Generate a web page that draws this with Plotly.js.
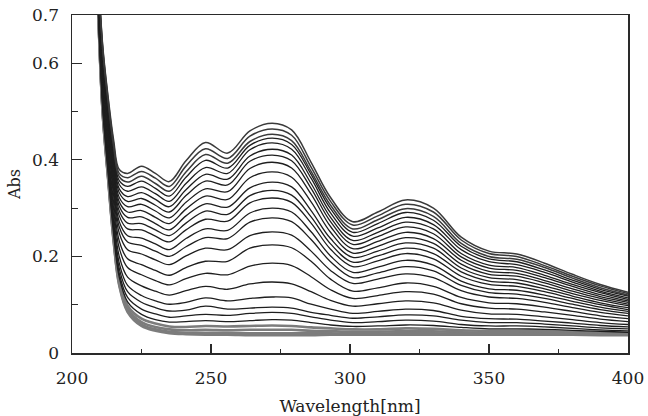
<!DOCTYPE html>
<html>
<head>
<meta charset="utf-8">
<script src="https://cdn.plot.ly/plotly-3.0.1.min.js"></script>
<style>html,body{margin:0;padding:0;background:#fff;}#chart{width:648px;height:416px;}</style>
</head>
<body>
<div id="chart"></div>
<script>
// Wavelength grid (nm)
const wavelength = [209, 211, 213, 215, 217, 220, 225, 230, 235, 241, 248, 256, 264, 272, 279, 286, 293, 301, 310, 320, 330, 340, 350, 360, 370, 380, 390, 400];

// Absorbance spectra, top curve first
const s01 = [0.840, 0.640, 0.530, 0.440, 0.380, 0.372, 0.387, 0.372, 0.355, 0.398, 0.436, 0.414, 0.460, 0.476, 0.462, 0.395, 0.322, 0.272, 0.292, 0.317, 0.300, 0.240, 0.211, 0.205, 0.186, 0.163, 0.142, 0.126];
const s02 = [0.838, 0.636, 0.525, 0.433, 0.372, 0.363, 0.376, 0.362, 0.345, 0.387, 0.423, 0.403, 0.449, 0.464, 0.451, 0.385, 0.314, 0.265, 0.284, 0.308, 0.292, 0.234, 0.206, 0.200, 0.181, 0.159, 0.139, 0.123];
const s03 = [0.836, 0.631, 0.519, 0.427, 0.365, 0.354, 0.366, 0.351, 0.335, 0.375, 0.411, 0.393, 0.438, 0.453, 0.440, 0.376, 0.306, 0.257, 0.276, 0.299, 0.283, 0.227, 0.200, 0.194, 0.177, 0.155, 0.135, 0.120];
const s04 = [0.834, 0.627, 0.514, 0.420, 0.357, 0.345, 0.356, 0.341, 0.325, 0.364, 0.399, 0.383, 0.430, 0.445, 0.432, 0.370, 0.299, 0.250, 0.268, 0.291, 0.275, 0.221, 0.195, 0.189, 0.172, 0.151, 0.132, 0.118];
const s05 = [0.832, 0.622, 0.508, 0.413, 0.349, 0.335, 0.344, 0.330, 0.314, 0.351, 0.384, 0.372, 0.421, 0.435, 0.422, 0.362, 0.290, 0.242, 0.259, 0.281, 0.266, 0.214, 0.189, 0.183, 0.167, 0.147, 0.128, 0.114];
const s06 = [0.830, 0.617, 0.502, 0.405, 0.340, 0.324, 0.332, 0.318, 0.303, 0.338, 0.370, 0.360, 0.408, 0.422, 0.410, 0.351, 0.281, 0.233, 0.250, 0.271, 0.257, 0.206, 0.182, 0.177, 0.161, 0.142, 0.125, 0.111];
const s07 = [0.828, 0.612, 0.496, 0.398, 0.332, 0.314, 0.320, 0.306, 0.292, 0.326, 0.356, 0.348, 0.397, 0.410, 0.398, 0.341, 0.272, 0.225, 0.241, 0.261, 0.247, 0.199, 0.176, 0.171, 0.156, 0.138, 0.121, 0.108];
const s08 = [0.826, 0.606, 0.489, 0.390, 0.322, 0.303, 0.308, 0.294, 0.280, 0.312, 0.340, 0.334, 0.382, 0.395, 0.383, 0.329, 0.262, 0.216, 0.231, 0.250, 0.237, 0.192, 0.169, 0.165, 0.150, 0.133, 0.117, 0.105];
const s09 = [0.823, 0.601, 0.483, 0.382, 0.313, 0.292, 0.295, 0.281, 0.268, 0.298, 0.325, 0.318, 0.363, 0.375, 0.364, 0.313, 0.250, 0.207, 0.221, 0.239, 0.227, 0.184, 0.163, 0.159, 0.145, 0.128, 0.113, 0.101];
const s10 = [0.821, 0.595, 0.476, 0.373, 0.304, 0.281, 0.282, 0.268, 0.255, 0.284, 0.309, 0.302, 0.342, 0.354, 0.344, 0.295, 0.237, 0.198, 0.211, 0.228, 0.217, 0.176, 0.156, 0.152, 0.139, 0.123, 0.109, 0.098];
const s11 = [0.819, 0.590, 0.469, 0.365, 0.294, 0.269, 0.268, 0.255, 0.243, 0.269, 0.294, 0.287, 0.326, 0.337, 0.327, 0.282, 0.226, 0.188, 0.201, 0.217, 0.206, 0.168, 0.149, 0.145, 0.133, 0.118, 0.104, 0.094];
const s12 = [0.816, 0.584, 0.462, 0.356, 0.284, 0.257, 0.255, 0.242, 0.230, 0.255, 0.277, 0.273, 0.311, 0.321, 0.312, 0.269, 0.215, 0.179, 0.191, 0.206, 0.195, 0.159, 0.142, 0.138, 0.127, 0.113, 0.100, 0.090];
const s13 = [0.813, 0.577, 0.454, 0.346, 0.272, 0.243, 0.238, 0.226, 0.214, 0.237, 0.257, 0.254, 0.290, 0.300, 0.292, 0.251, 0.201, 0.167, 0.178, 0.192, 0.182, 0.149, 0.133, 0.130, 0.120, 0.107, 0.095, 0.086];
const s14 = [0.810, 0.571, 0.446, 0.336, 0.261, 0.230, 0.223, 0.211, 0.200, 0.220, 0.239, 0.237, 0.271, 0.280, 0.272, 0.235, 0.189, 0.156, 0.166, 0.179, 0.170, 0.140, 0.125, 0.122, 0.113, 0.101, 0.090, 0.082];
const s15 = [0.807, 0.563, 0.437, 0.325, 0.248, 0.214, 0.205, 0.193, 0.183, 0.201, 0.217, 0.214, 0.243, 0.251, 0.244, 0.211, 0.171, 0.144, 0.153, 0.164, 0.156, 0.129, 0.116, 0.113, 0.105, 0.094, 0.084, 0.077];
const s16 = [0.803, 0.554, 0.425, 0.310, 0.232, 0.195, 0.183, 0.171, 0.161, 0.177, 0.190, 0.190, 0.217, 0.224, 0.218, 0.190, 0.153, 0.128, 0.135, 0.145, 0.138, 0.115, 0.104, 0.102, 0.095, 0.086, 0.077, 0.071];
const s17 = [0.799, 0.545, 0.414, 0.297, 0.217, 0.177, 0.162, 0.150, 0.141, 0.154, 0.165, 0.162, 0.180, 0.186, 0.181, 0.158, 0.131, 0.113, 0.119, 0.127, 0.122, 0.102, 0.093, 0.091, 0.085, 0.078, 0.070, 0.065];
const s18 = [0.795, 0.535, 0.403, 0.283, 0.200, 0.157, 0.139, 0.128, 0.120, 0.129, 0.138, 0.132, 0.143, 0.147, 0.143, 0.127, 0.109, 0.097, 0.102, 0.108, 0.104, 0.089, 0.081, 0.080, 0.075, 0.069, 0.063, 0.059];
const s19 = [0.791, 0.527, 0.392, 0.270, 0.186, 0.140, 0.119, 0.108, 0.101, 0.105, 0.114, 0.108, 0.113, 0.116, 0.114, 0.101, 0.091, 0.082, 0.086, 0.091, 0.088, 0.076, 0.071, 0.070, 0.066, 0.062, 0.057, 0.054];
const s20 = [0.789, 0.521, 0.385, 0.261, 0.175, 0.127, 0.105, 0.094, 0.087, 0.089, 0.097, 0.091, 0.093, 0.095, 0.093, 0.084, 0.078, 0.072, 0.075, 0.079, 0.077, 0.068, 0.063, 0.063, 0.060, 0.056, 0.052, 0.050];
const s21 = [0.786, 0.515, 0.378, 0.252, 0.165, 0.115, 0.091, 0.081, 0.074, 0.077, 0.080, 0.078, 0.082, 0.084, 0.082, 0.075, 0.068, 0.063, 0.065, 0.068, 0.066, 0.059, 0.056, 0.056, 0.054, 0.051, 0.048, 0.046];
const s22 = [0.784, 0.510, 0.372, 0.245, 0.157, 0.106, 0.080, 0.069, 0.064, 0.065, 0.067, 0.065, 0.067, 0.069, 0.068, 0.063, 0.058, 0.055, 0.056, 0.058, 0.057, 0.053, 0.050, 0.050, 0.049, 0.047, 0.045, 0.043];
// dense grey cluster near the baseline
const s23 = [0.783, 0.506, 0.368, 0.239, 0.151, 0.098, 0.071, 0.061, 0.055, 0.054, 0.056, 0.055, 0.056, 0.057, 0.056, 0.053, 0.051, 0.049, 0.049, 0.051, 0.050, 0.047, 0.046, 0.046, 0.045, 0.044, 0.042, 0.041];
const s24 = [0.782, 0.503, 0.364, 0.235, 0.146, 0.092, 0.064, 0.054, 0.049, 0.047, 0.048, 0.047, 0.048, 0.048, 0.048, 0.046, 0.045, 0.044, 0.044, 0.045, 0.045, 0.043, 0.042, 0.042, 0.042, 0.041, 0.040, 0.039];
const s25 = [0.781, 0.501, 0.362, 0.232, 0.142, 0.088, 0.059, 0.049, 0.044, 0.042, 0.042, 0.042, 0.041, 0.041, 0.041, 0.041, 0.041, 0.040, 0.040, 0.041, 0.041, 0.040, 0.040, 0.040, 0.040, 0.039, 0.038, 0.038];
const s26 = [0.780, 0.500, 0.360, 0.230, 0.140, 0.085, 0.056, 0.046, 0.041, 0.039, 0.038, 0.038, 0.037, 0.037, 0.037, 0.037, 0.038, 0.038, 0.038, 0.038, 0.038, 0.038, 0.038, 0.038, 0.038, 0.038, 0.037, 0.037];

const upperSpectra = [s01, s02, s03];
const middleSpectra = [s04, s05, s06, s07, s08, s09, s10, s11, s12, s13, s14, s15, s16, s17, s18, s19, s20, s21, s22];
const baselineSpectra = [s23, s24, s25, s26];

const xTickVals = [200, 250, 300, 350, 400];
const xTickText = ['200', '250', '300', '350', '400'];
const xMinorVals = [225, 275, 325, 375];
const yTickVals = [0, 0.2, 0.4, 0.6, 0.7];
const yTickText = ['0', '0.2', '0.4', '0.6', '0.7'];
const yMinorVals = [0.1, 0.3, 0.5];

const traces = [];
function addGroup(group, color, width) {
  group.forEach(function (ys) {
    traces.push({
      type: 'scatter', mode: 'lines', x: wavelength, y: ys,
      line: {color: color, width: width, shape: 'spline', smoothing: 1},
      hoverinfo: 'skip'
    });
  });
}
addGroup(baselineSpectra, '#7c7c7c', 2.6);
addGroup(middleSpectra, '#1e1e1e', 1.3);
addGroup(upperSpectra, '#3a3a3a', 1.5);

const axisColor = '#2a2a2a';
const layout = {
  width: 648, height: 416,
  margin: {l: 72, r: 20, t: 15, b: 63},
  paper_bgcolor: '#ffffff', plot_bgcolor: '#ffffff',
  showlegend: false,
  font: {family: 'DejaVu Serif, serif', color: '#222222', size: 17},
  xaxis: {
    range: [200, 400], tickmode: 'array', tickvals: xTickVals, ticktext: xTickText,
    ticks: 'inside', ticklen: 9, tickwidth: 1.2, tickcolor: axisColor,
    showline: true, linecolor: axisColor, linewidth: 1.5, mirror: true,
    showgrid: false, zeroline: false,
    tickfont: {size: 17, family: 'DejaVu Serif, serif', color: '#222'},
    ticklabelstandoff: 9,
    minor: {tickmode: 'array', tickvals: xMinorVals, ticks: 'inside', ticklen: 4, tickwidth: 1.2, tickcolor: axisColor, showgrid: false},
    title: {text: 'Wavelength[nm]', font: {size: 17, family: 'DejaVu Serif, serif', color: '#222'}, standoff: 13}
  },
  yaxis: {
    range: [0, 0.7], tickmode: 'array', tickvals: yTickVals, ticktext: yTickText,
    ticks: 'inside', ticklen: 10, tickwidth: 1.2, tickcolor: axisColor,
    showline: true, linecolor: axisColor, linewidth: 1.5, mirror: true,
    showgrid: false, zeroline: false,
    tickfont: {size: 17, family: 'DejaVu Serif, serif', color: '#222'},
    ticklabelstandoff: 8,
    minor: {tickmode: 'array', tickvals: yMinorVals, ticks: 'inside', ticklen: 6, tickwidth: 1.2, tickcolor: axisColor, showgrid: false},
    title: {text: 'Abs', font: {size: 16, family: 'DejaVu Serif, serif', color: '#222'}, standoff: 7}
  }
};

Plotly.newPlot('chart', traces, layout, {displayModeBar: false, staticPlot: true});
</script>
</body>
</html>
